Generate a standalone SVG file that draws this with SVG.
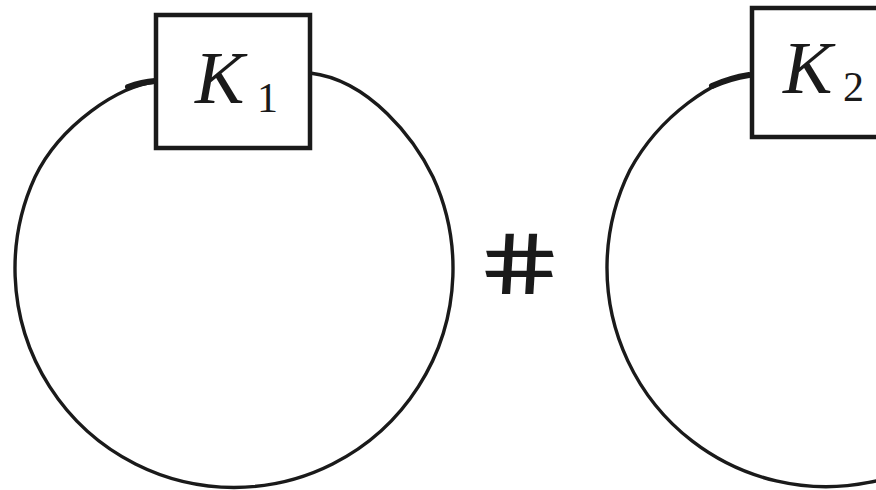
<svg xmlns="http://www.w3.org/2000/svg" width="876" height="490" viewBox="0 0 876 490">
<style>
.loop{fill:none;stroke:#1a1a1a;stroke-width:3.4;stroke-linecap:round}
.join{fill:none;stroke:#1a1a1a;stroke-width:6;stroke-linecap:round}
.box{fill:#fff;stroke:#1a1a1a;stroke-width:4.5}
.k{font-family:"Liberation Serif",serif;font-style:italic;font-size:74px;fill:#1a1a1a}
.sub{font-family:"Liberation Serif",serif;font-size:42px;fill:#1a1a1a}
.sym{font-family:"DejaVu Sans",sans-serif;font-size:84px;fill:#1a1a1a}
</style>
<rect width="876" height="490" fill="#fff"/>
<g id="connectors">
<path class="loop" d="M155,82 C120,85 60,125 35,177 A219,219 0 1 0 433,177 C415,140 370,80 310,73"/>
<path class="join" d="M128,87 Q142,82 155,81"/>
<path class="loop" d="M749,75 C715,78 660,115 630,170 A219,219 0 1 0 1045,267"/>
<path class="join" d="M712,86 Q730,78 749,75"/>
</g>
<g id="knot1">
<rect class="box" x="156" y="15" width="154" height="133"/>
<text class="k" x="195" y="103">K</text>
<text class="sub" x="257" y="112">1</text>
</g>
<g id="sum">
<text class="sym" transform="translate(527,294) skewX(14) scale(1.25,1)" text-anchor="middle">#</text>
</g>
<g id="knot2">
<rect class="box" x="752" y="8" width="160" height="129"/>
<text class="k" x="783" y="93">K</text>
<text class="sub" x="843" y="101">2</text>
</g>
</svg>
